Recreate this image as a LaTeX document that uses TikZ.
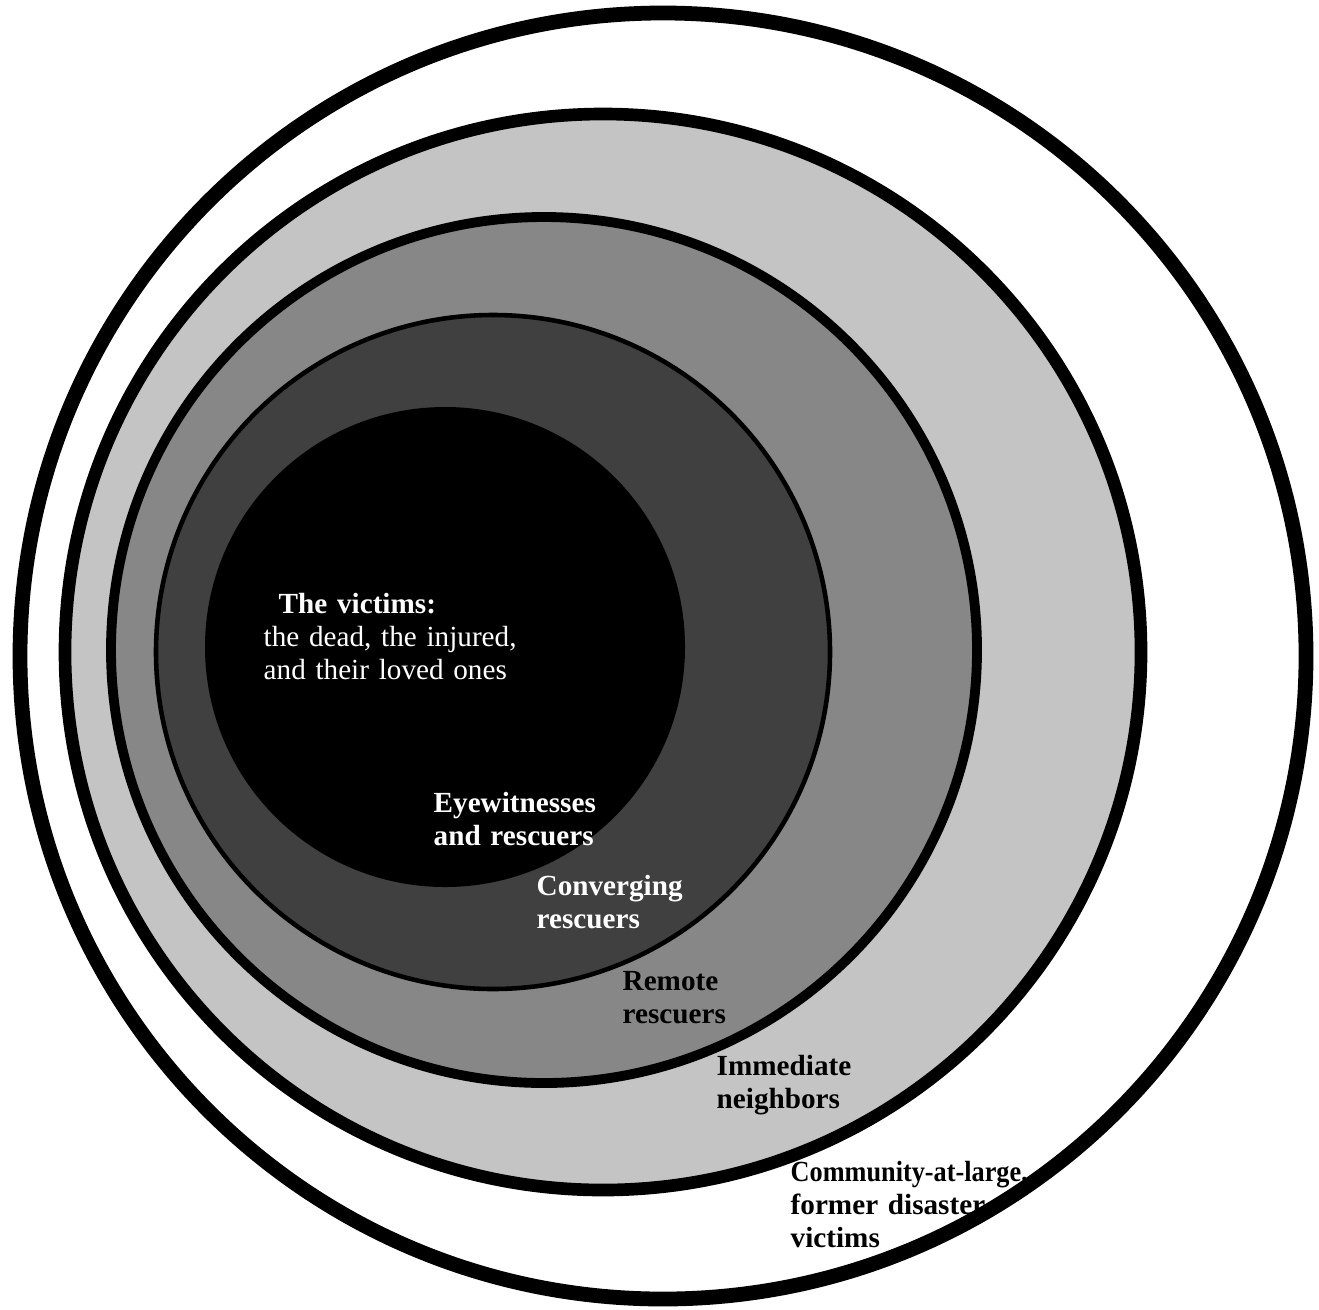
\documentclass[tikz,border=0pt]{standalone}
\usepackage{fontspec}
\setmainfont{Liberation Serif}
\usepackage{tikz}

\definecolor{neighborgray}{gray}{0.77}
\definecolor{remotegray}{gray}{0.53}
\definecolor{convgray}{gray}{0.25}

\begin{document}
\begin{tikzpicture}[
  x=0.01cm, y=-0.01cm,
  zone/.style={draw=black, fill=#1},
  lbl/.style={anchor=base west, inner sep=0pt, text width=3cm, align=left,
    font=\fontsize{8.3}{9.4}\selectfont\bfseries},
  inlbl/.style={lbl, text=white}
]
\fill[white] (0,0) rectangle (1319,1309);
\useasboundingbox (0,0) rectangle (1319,1309);

% rings, outside in
\draw[zone=white, line width=4.2pt] (663,656) circle [radius=643];
\draw[zone=neighborgray, line width=3.6pt] (603,652) circle [radius=538];
\draw[zone=remotegray, line width=2.8pt] (544,650) circle [radius=433];
\draw[zone=convgray, line width=1.3pt] (493,652) circle [radius=337];
\fill[black] (445,647) circle [radius=240];

\node[inlbl] (victims) at (263,613) {\hspace*{1.5mm}The victims:\\
  {\mdseries the dead, the injured,\\ and their loved ones}};
\node[inlbl] (eyewit) at (433,812) {Eyewitnesses\\ and rescuers};
\node[inlbl] (converging) at (536,895) {Converging\\ rescuers};
\node[lbl] (remote) at (622,990) {Remote\\ rescuers};
\node[lbl] (neighbors) at (716,1075) {Immediate\\ neighbors};
\node[lbl] (community) at (790,1181) {\scalebox{0.9}[1]{Community-at-large,}\\ former disaster\\ victims};
\end{tikzpicture}
\end{document}
